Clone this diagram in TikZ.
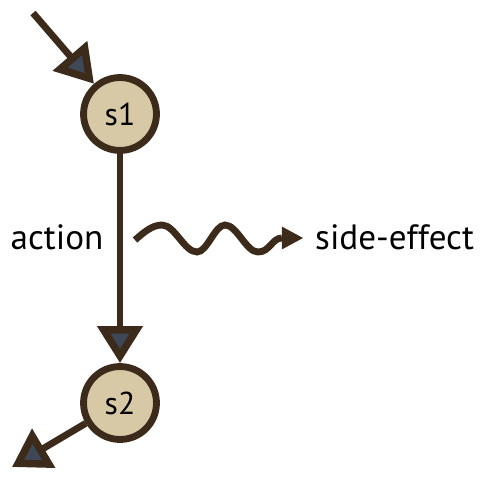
\documentclass[tikz,border=0pt]{standalone}
\usepackage{fontspec}
\setmainfont{PT Sans}
\usetikzlibrary{arrows.meta}
\definecolor{stroke}{RGB}{60,42,26}
\definecolor{statefill}{RGB}{216,201,166}
\definecolor{tipfill}{RGB}{62,72,86}
\tikzset{state/.style={circle, draw=stroke, fill=statefill, line width=3.9pt, minimum size=41.5pt, inner sep=0pt, font=\fontsize{18}{21}\selectfont}}
\tikzset{transition/.style={draw=stroke, line width=3.9pt, -{Triangle[length=21pt,width=25pt,fill=tipfill,line width=4.2pt]}}}
\tikzset{effect/.style={draw=stroke, line width=3.9pt, -{Triangle[length=12pt,width=13pt,fill=stroke,line width=0pt]}}}
\tikzset{tag/.style={font=\fontsize{20}{23}\selectfont, text=black}}

\begin{document}
\begin{tikzpicture}[x=0.02cm,y=-0.02cm]
\useasboundingbox (0,0) rectangle (492,483);

% states
\node[state] (s1) at (120,114) {s1};
\node[state] (s2) at (120,403) {s2};

% entry and exit
\coordinate (entry) at (33,13);
\coordinate (exit) at (12,467);
\draw[transition] (entry) -- (s1);
\draw[transition] (s1) -- (s2);
\draw[transition] (s2) -- (exit);

% action and its side effect
\node[tag] (action) at (57,237) {action};
\coordinate (waveStart) at (135,240);
\coordinate (waveEnd) at (303,238);
\draw[effect] (waveStart) sin (162,225) cos (179.5,238.5) sin (197,252) cos (211,238.5)
  sin (225,225) cos (241.5,238.5) sin (258,252) .. controls (270,252) and (272,238) .. (waveEnd);
\node[tag,anchor=west] (effectLabel) at (309,237) {side-effect};
\end{tikzpicture}
\end{document}
